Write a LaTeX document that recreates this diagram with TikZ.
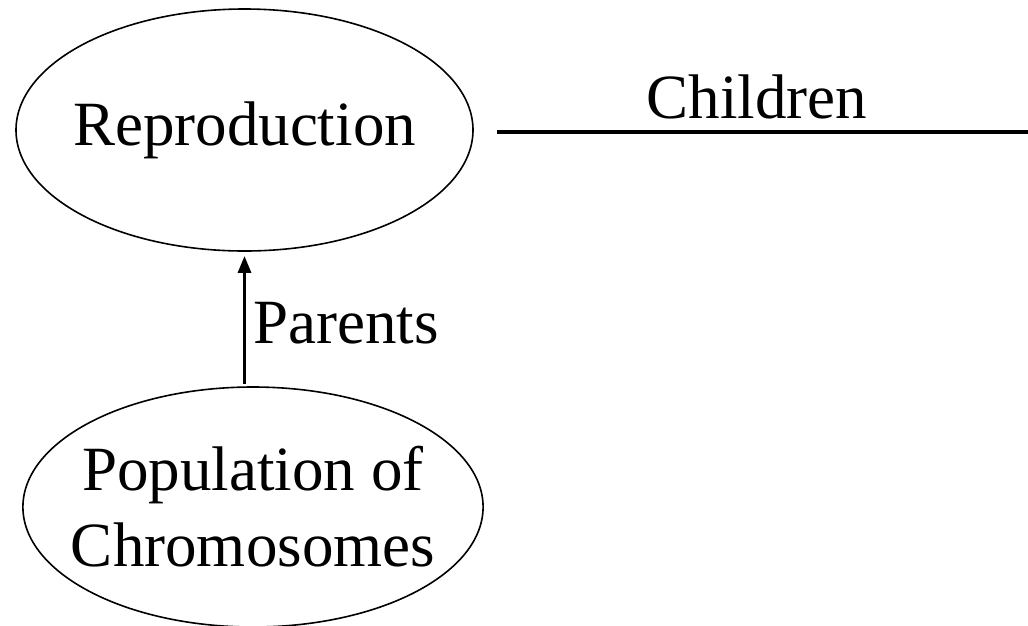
\documentclass[tikz,border=0pt]{standalone}
\usepackage{fontspec}
\setmainfont{Liberation Serif}
\usetikzlibrary{shapes.geometric,arrows.meta}
\tikzset{
  bubble/.style={ellipse, draw, line width=1.6pt, inner ysep=0pt, align=center,
    font=\fontsize{63}{76}\selectfont},
  label text/.style={inner sep=0pt, font=\fontsize{63}{76}\selectfont},
  flow/.style={line width=3.5pt},
  flow arrow/.style={flow, -{Triangle[length=17pt,width=12.7pt]}}
}
\begin{document}
\begin{tikzpicture}[x=1pt,y=1pt]
  \useasboundingbox (0,0) rectangle (1028,-625);
  % the two stages of the cycle
  \node[bubble, inner xsep=-10.4pt, minimum width=457pt, minimum height=242pt] (rep) at (244.5,-130) {Reproduction};
  \node[bubble, inner xsep=-19.3pt, minimum width=460pt, minimum height=240pt] (pop) at (253,-507) {Population of\\Chromosomes};
  % parents selected from the population
  \draw[flow arrow, shorten <=2pt, shorten >=4pt] (pop.north -| rep.south) -- (rep.south);
  \node[label text, anchor=base west] (parents) at (253,-343) {Parents};
  % offspring leaving reproduction
  \coordinate (out) at (1028,-132);
  \draw[flow] ([xshift=23pt,yshift=-2pt]rep.east) -- (out);
  \node[label text, anchor=base] (children) at (757,-118) {Children};
\end{tikzpicture}
\end{document}
